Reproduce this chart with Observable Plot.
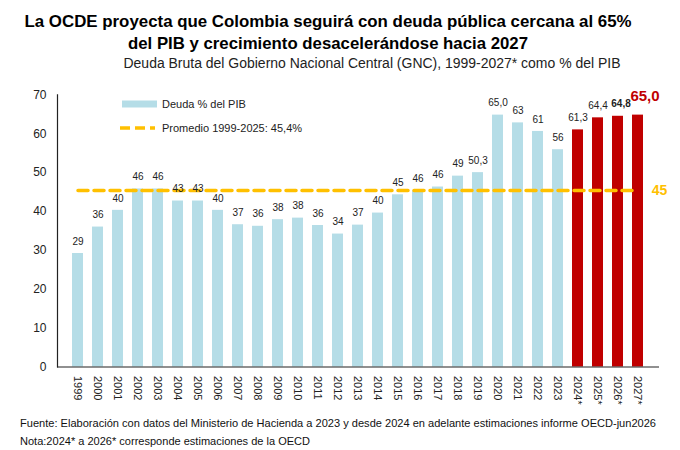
<!DOCTYPE html>
<html>
<head>
<meta charset="utf-8">
<script src="https://cdn.jsdelivr.net/npm/d3@7"></script>
<script src="https://cdn.jsdelivr.net/npm/@observablehq/plot@0.6"></script>
<style>
  html, body { margin: 0; padding: 0; background: #fff; }
  #wrap { position: relative; width: 680px; height: 450px; font-family: "Liberation Sans", Arial, sans-serif; overflow: hidden; }
  svg { display: block; }
  #legend { position: absolute; left: 120px; top: 96px; font-size: 11px; color: #222; }
  #legend .row { display: flex; align-items: center; height: 16px; }
  #legend .row + .row { margin-top: 8px; }
</style>
</head>
<body>
<div id="wrap">
  <svg id="header" width="680" height="80" font-family="Liberation Sans, Arial, sans-serif">
    <text x="328" y="27" text-anchor="middle" font-weight="bold" font-size="17" fill="#000" textLength="607" lengthAdjust="spacingAndGlyphs">La OCDE proyecta que Colombia seguirá con deuda pública cercana al 65%</text>
    <text x="328" y="49" text-anchor="middle" font-weight="bold" font-size="17" fill="#000" textLength="400" lengthAdjust="spacingAndGlyphs">del PIB y crecimiento desacelerándose hacia 2027</text>
    <text x="372" y="68" text-anchor="middle" font-size="14" fill="#222" textLength="497" lengthAdjust="spacingAndGlyphs">Deuda Bruta del Gobierno Nacional Central (GNC), 1999-2027* como % del PIB</text>
  </svg>
  <div id="chart"></div>
  <svg id="footer" width="680" height="40" font-family="Liberation Sans, Arial, sans-serif">
    <text x="20" y="16.5" font-size="11" fill="#111" textLength="636" lengthAdjust="spacingAndGlyphs">Fuente: Elaboración con datos del Ministerio de Hacienda a 2023 y desde 2024 en adelante estimaciones informe OECD-jun2026</text>
    <text x="20" y="35" font-size="11.5" fill="#111" textLength="290" lengthAdjust="spacingAndGlyphs">Nota:2024* a 2026* corresponde estimaciones de la OECD</text>
  </svg>
  <div id="legend">
    <div class="row"><svg width="42" height="16"><rect x="2" y="4.5" width="35" height="7" fill="#B5DDE7"></rect></svg><span>Deuda % del PIB</span></div>
    <div class="row"><svg width="42" height="16"><line x1="0" y1="8" x2="35" y2="8" stroke="#FFC000" stroke-width="3.5" stroke-dasharray="10,5"></line></svg><span>Promedio 1999-2025: 45,4%</span></div>
  </div>
</div>
<script>
const years = ["1999","2000","2001","2002","2003","2004","2005","2006","2007","2008","2009","2010","2011","2012","2013","2014","2015","2016","2017","2018","2019","2020","2021","2022","2023","2024*","2025*","2026*","2027*"];
const values = [29.2, 36.0, 40.3, 45.8, 45.8, 42.7, 42.7, 40.3, 36.6, 36.2, 37.9, 38.3, 36.4, 34.2, 36.5, 39.6, 44.3, 45.3, 46.3, 49.1, 50.0, 64.8, 62.8, 60.6, 55.9, 61.0, 64.1, 64.5, 64.8];
const labels = ["29","36","40","46","46","43","43","40","37","36","38","38","36","34","37","40","45","46","46","49","50,3","65,0","63","61","56","61,3","64,4","64,8","65,0"];
const forecastYears = ["2024*","2025*","2026*","2027*"];
const boldLabelYears = ["2026*"];
const highlightYear = "2027*";
const average = 45.4;
const averageLabel = "45";
const yTicks = [0, 10, 20, 30, 40, 50, 60, 70];

const BLUE = "#B5DDE7", RED = "#C00000", GOLD = "#FFC000", INK = "#222";

const data = years.map((y, i) => ({year: y, value: values[i], label: labels[i], forecast: forecastYears.includes(y)}));
const avgLine = [{year: years[0], v: average}, {year: years[years.length - 1], v: average}];

const chart = Plot.plot({
  width: 680,
  height: 330,
  marginTop: 14.4,
  marginBottom: 43.5,
  marginLeft: 57,
  marginRight: 21,
  style: {fontFamily: "Liberation Sans, Arial, sans-serif", color: INK, background: "white", overflow: "visible"},
  x: {type: "band", domain: years, paddingInner: 0.435, paddingOuter: 0.24, label: null},
  y: {domain: [0, 70], label: null},
  marks: [
    Plot.barY(data.filter(d => !d.forecast), {x: "year", y: "value", fill: BLUE}),
    Plot.barY(data.filter(d => d.forecast), {x: "year", y: "value", fill: RED}),
    Plot.line(avgLine, {x: "year", y: "v", stroke: GOLD, strokeWidth: 3.5, strokeDasharray: "10,6"}),
    Plot.text(data.filter(d => d.year !== highlightYear && !boldLabelYears.includes(d.year)), {x: "year", y: "value", text: "label", dy: -12, fontSize: 10, fill: INK}),
    Plot.text(data.filter(d => boldLabelYears.includes(d.year)), {x: "year", y: "value", text: "label", dy: -12, dx: 3, fontSize: 10, fontWeight: "bold", fill: INK}),
    Plot.text(data.filter(d => d.year === highlightYear), {x: "year", y: "value", text: "label", dy: -19, dx: 7, fontSize: 15, fontWeight: "bold", fill: RED}),
    Plot.text([avgLine[1]], {x: "year", y: "v", text: () => averageLabel, dx: 21.5, fontSize: 14, fontWeight: "bold", fill: GOLD}),
    Plot.axisX({tickRotate: 90, tickSize: 0, tickPadding: 9, fontSize: 11, fill: INK, label: null}),
    Plot.axisY({ticks: yTicks, tickSize: 0, tickPadding: 11, fontSize: 12, fill: INK, label: null}),
    Plot.ruleY([0], {stroke: INK, strokeWidth: 1.2}),
    Plot.frame({anchor: "left", stroke: INK, strokeWidth: 1.2})
  ]
});
document.getElementById("chart").appendChild(chart);
</script>
</body>
</html>
